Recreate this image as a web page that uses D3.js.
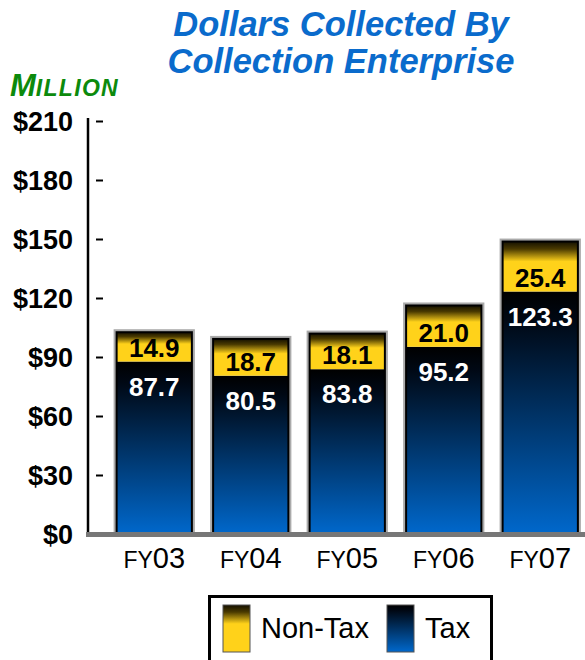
<!DOCTYPE html>
<html><head><meta charset="utf-8">
<script src="https://cdn.jsdelivr.net/npm/d3@7"></script>
<style>body{margin:0;background:#fff}svg{display:block;font-family:"Liberation Sans",Arial,sans-serif}</style>
</head><body>
<svg id="c" width="585" height="660"></svg>
<script>
const categories = ["03","04","05","06","07"];
const taxValues = [87.7, 80.5, 83.8, 95.2, 123.3];
const nonTaxValues = [14.9, 18.7, 18.1, 21.0, 25.4];
const yTicks = [0,30,60,90,120,150,180,210];
const titleLines = ["Dollars Collected By","Collection Enterprise"];

const svg = d3.select("#c");
const defs = svg.append("defs");
const gTax = defs.append("linearGradient").attr("id","gTax").attr("x1",0).attr("y1",0).attr("x2",0).attr("y2",1);
gTax.append("stop").attr("offset",0).attr("stop-color","#000000");
gTax.append("stop").attr("offset",0.12).attr("stop-color","#000814");
gTax.append("stop").attr("offset",1).attr("stop-color","#0068cc");
const gNon = defs.append("linearGradient").attr("id","gNon").attr("x1",0).attr("y1",0).attr("x2",0).attr("y2",1);
gNon.append("stop").attr("offset",0).attr("stop-color","#141000");
gNon.append("stop").attr("offset",0.15).attr("stop-color","#4a3a00");
gNon.append("stop").attr("offset",0.4).attr("stop-color","#ffd21a");
gNon.append("stop").attr("offset",1).attr("stop-color","#ffd21a");

const y = d3.scaleLinear().domain([0,210]).range([534,121]);
const x = d3.scaleBand().domain(categories).range([106,588.5]).paddingInner(0.22).paddingOuter(0.11);

// title
svg.append("g").selectAll("text").data(titleLines).join("text")
  .attr("x",341).attr("y",(d,i)=>36+i*37).attr("text-anchor","middle")
  .attr("font-size",34.5).attr("font-weight","bold").attr("font-style","italic")
  .attr("fill","#0a6bcc").text(d=>d);

// MILLION
const mt = svg.append("text").attr("x",10).attr("y",96).attr("fill","#0c8a0c")
  .attr("font-weight","bold").attr("font-style","italic");
mt.append("tspan").attr("font-size",31).text("M");
mt.append("tspan").attr("font-size",23).attr("letter-spacing",1.3).text("ILLION");

// y axis
const yAxis = d3.axisLeft(y).tickValues(yTicks).tickSize(7).tickPadding(23).tickFormat(d=>"$"+d);
const ga = svg.append("g").attr("transform","translate(103,0)").call(yAxis);
ga.select(".domain").remove();
ga.selectAll(".tick line").attr("stroke","#000").attr("stroke-width",2);
ga.selectAll(".tick text").attr("font-size",27).attr("font-weight","bold").attr("fill","#000")
  .attr("font-family","Liberation Sans, Arial, sans-serif").attr("dy","0.35em");
svg.append("line").attr("x1",88).attr("x2",88).attr("y1",y(210)-3).attr("y2",y(0))
  .attr("stroke","#000").attr("stroke-width",2.5);

// bars
const data = categories.map((c,i)=>({c, tax:taxValues[i], non:nonTaxValues[i]}));
const bars = svg.append("g").selectAll("g").data(data).join("g");
bars.append("rect").attr("x",d=>x(d.c)-1).attr("width",x.bandwidth()+2)
  .attr("y",d=>y(d.tax+d.non)-1).attr("height",d=>y(0)-y(d.tax+d.non)+1)
  .attr("fill","none").attr("stroke","#aaa").attr("stroke-width",4);
bars.append("rect").attr("x",d=>x(d.c)).attr("width",x.bandwidth())
  .attr("y",d=>y(d.tax)).attr("height",d=>y(0)-y(d.tax)).attr("fill","url(#gTax)");
bars.append("rect").attr("x",d=>x(d.c)).attr("width",x.bandwidth())
  .attr("y",d=>y(d.tax+d.non)).attr("height",d=>y(d.tax)-y(d.tax+d.non)).attr("fill","url(#gNon)");
bars.append("rect").attr("x",d=>x(d.c)).attr("width",x.bandwidth())
  .attr("y",d=>y(d.tax+d.non)).attr("height",d=>y(0)-y(d.tax+d.non))
  .attr("fill","none").attr("stroke","#000").attr("stroke-width",2);
bars.append("text").attr("x",d=>x(d.c)+x.bandwidth()/2).attr("y",d=>y(d.tax)+34)
  .attr("text-anchor","middle").attr("font-size",26).attr("font-weight","bold").attr("fill","#fff")
  .text(d=>d.tax.toFixed(1));
bars.append("text").attr("x",d=>x(d.c)+x.bandwidth()/2).attr("y",d=>y(d.tax)-5)
  .attr("text-anchor","middle").attr("font-size",26).attr("font-weight","bold").attr("fill","#000")
  .text(d=>d.non.toFixed(1));

// baseline
svg.append("line").attr("x1",86).attr("x2",585).attr("y1",y(0)+0.5).attr("y2",y(0)+0.5)
  .attr("stroke","#777").attr("stroke-width",5);

// x labels
const xl = svg.append("g").selectAll("text").data(categories).join("text")
  .attr("x",d=>x(d)+x.bandwidth()/2).attr("y",568).attr("text-anchor","middle").attr("fill","#000");
xl.append("tspan").attr("font-size",23).text("FY");
xl.append("tspan").attr("font-size",29).text(d=>d);

// legend
const lg = svg.append("g");
lg.append("rect").attr("x",209.5).attr("y",596.5).attr("width",282).attr("height",80)
  .attr("fill","#fff").attr("stroke","#000").attr("stroke-width",3);
const legendItems = [{label:"Non-Tax",fill:"url(#gNon)",x:223},{label:"Tax",fill:"url(#gTax)",x:387}];
const li = lg.selectAll("g").data(legendItems).join("g");
li.append("rect").attr("x",d=>d.x).attr("y",605).attr("width",27).attr("height",47)
  .attr("fill",d=>d.fill).attr("stroke","#555").attr("stroke-width",1);
li.append("text").attr("x",d=>d.x+38).attr("y",638).attr("font-size",29).attr("fill","#000").text(d=>d.label);
</script>
</body></html>
